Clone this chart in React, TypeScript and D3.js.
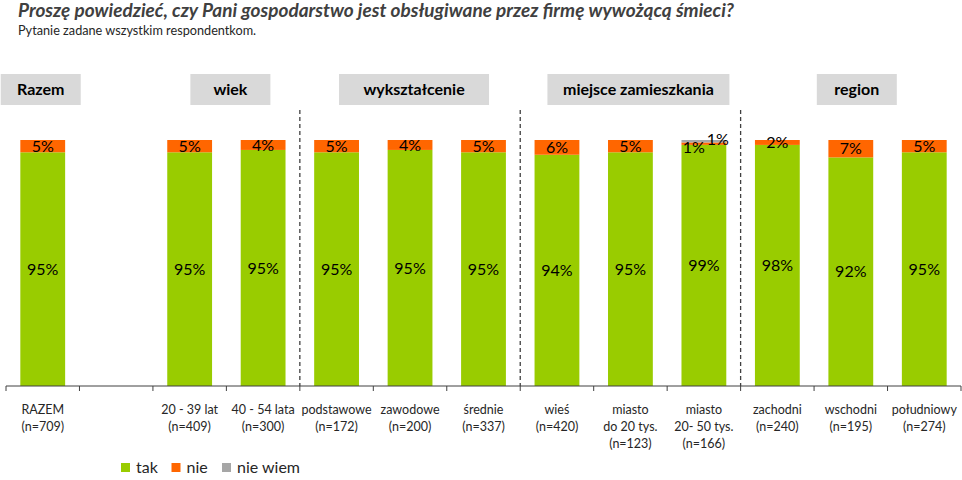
import React from "react";
import * as d3 from "d3";

// categories on the x axis ("" is the empty slot after RAZEM)
const categories = ["RAZEM", "", "20-39", "40-54", "podstawowe", "zawodowe", "srednie", "wies", "miasto20", "miasto50", "zachodni", "wschodni", "poludniowy"];
const categoryLabels = [
  ["RAZEM", "(n=709)"],
  [],
  ["20 - 39 lat", "(n=409)"],
  ["40 - 54 lata", "(n=300)"],
  ["podstawowe", "(n=172)"],
  ["zawodowe", "(n=200)"],
  ["średnie", "(n=337)"],
  ["wieś", "(n=420)"],
  ["miasto", "do 20 tys.", "(n=123)"],
  ["miasto", "20- 50 tys.", "(n=166)"],
  ["zachodni", "(n=240)"],
  ["wschodni", "(n=195)"],
  ["południowy", "(n=274)"],
];

const tak = [95, null, 95, 95, 95, 95, 95, 94, 95, 99, 98, 92, 95];
const nie = [5, null, 5, 4, 5, 4, 5, 6, 5, 1, 2, 7, 5];
const nieWiem = [0, null, 0, 0, 0, 0, 0, 0, 0, 1, 0, 0, 0];

const seriesNames = ["tak", "nie", "nie wiem"];
const seriesKeys = ["tak", "nie", "nieWiem"];
const seriesColors = ["#99CC00", "#FF6600", "#A6A6A6"];

const groupNames = ["Razem", "wiek", "wykształcenie", "miejsce zamieszkania", "region"];
const groupFirst = ["RAZEM", "20-39", "podstawowe", "wies", "zachodni"];
const groupLast = ["RAZEM", "40-54", "srednie", "miasto50", "poludniowy"];

const title = "Proszę powiedzieć, czy Pani gospodarstwo jest obsługiwane przez firmę wywożącą śmieci?";
const subtitle = "Pytanie zadane wszystkim respondentkom.";

const W = 962, H = 480;
const font = "Lato, 'Open Sans', sans-serif";
const layout = {
  axisY: 386, topY: 140, left: 6, right: 961,
  barRatio: 0.61, boxTop: 74, boxH: 31,
  boxW: [80, 80, 150, 182, 80], boxShift: [-2, 4, 4, 8, 6],
};
// manual nudges of crowded labels (Excel style)
const labelDx: Record<string, number[]> = { miasto50: [0, -10, 14] };
const labelDy: Record<string, number[]> = { miasto50: [0, 4, -2] };

const App = () => {
  const x = d3.scaleBand<string>().domain(categories).range([layout.left, layout.right]).padding(0);
  const y = d3.scaleLinear().domain([0, 1]).range([layout.axisY, layout.topY]);
  const bw = x.bandwidth();
  const barW = bw * layout.barRatio;

  const rows = categories.map((c, i) => ({ cat: c, tak: tak[i], nie: nie[i], nieWiem: nieWiem[i] }))
    .filter((r) => r.tak !== null) as any[];
  const stack = d3.stack<any>().keys(seriesKeys).offset(d3.stackOffsetExpand);
  const layers = stack(rows);

  const ticks = categories.map((c) => x(c) as number).concat([layout.right]);
  const sepCats = ["podstawowe", "wies", "zachodni"];

  return (
    <svg width={W} height={H} style={{ position: "absolute", left: 0, top: 0 }}>
      <rect width={W} height={H} fill="#fff" />
      <text x={18} y={17} fontFamily={font} fontSize={18} fontWeight="bold" fontStyle="italic" fill="#404040" textLength={716} lengthAdjust="spacingAndGlyphs">{title}</text>
      <text x={18} y={35} fontFamily={font} fontSize={12.7} fill="#262626">{subtitle}</text>

      {groupNames.map((g, i) => {
        const x0 = x(groupFirst[i]) as number;
        const x1 = (x(groupLast[i]) as number) + bw;
        const cx = (x0 + x1) / 2 + layout.boxShift[i];
        return (
          <g key={g}>
            <rect x={cx - layout.boxW[i] / 2} y={layout.boxTop} width={layout.boxW[i]} height={layout.boxH} fill="#D9D9D9" />
            <text x={cx} y={layout.boxTop + layout.boxH / 2 + 5.5} textAnchor="middle" fontFamily={font} fontSize={16} fontWeight="bold" fill="#000">{g}</text>
          </g>
        );
      })}

      {sepCats.map((c) => (
        <line key={c} x1={x(c)} x2={x(c)} y1={110} y2={layout.axisY} stroke="#404040" strokeWidth={1.3} strokeDasharray="4,3" />
      ))}

      {layers.map((layer, li) => (
        <g key={layer.key}>
          {layer.map((d: any) => {
            if (d[1] - d[0] <= 0) return null;
            const bx = (x(d.data.cat) as number) + (bw - barW) / 2;
            return <rect key={d.data.cat} x={bx} y={y(d[1])} width={barW} height={y(d[0]) - y(d[1])} fill={seriesColors[li]} />;
          })}
        </g>
      ))}

      {layers.map((layer, li) => (
        <g key={"l" + layer.key}>
          {layer.map((d: any) => {
            const v = d.data[layer.key];
            if (!v) return null;
            const cx = (x(d.data.cat) as number) + bw / 2 + (labelDx[d.data.cat]?.[li] ?? 0);
            const cy = (y(d[0]) + y(d[1])) / 2 + (labelDy[d.data.cat]?.[li] ?? 0);
            return (
              <text key={d.data.cat} x={cx} y={cy} dy="0.35em" textAnchor="middle" fontFamily={font} fontSize={16} fill="#000">{v}%</text>
            );
          })}
        </g>
      ))}

      <line x1={layout.left} x2={layout.right} y1={layout.axisY} y2={layout.axisY} stroke="#404040" strokeWidth={1} />
      {ticks.map((t, i) => (
        <line key={i} x1={t} x2={t} y1={layout.axisY} y2={layout.axisY + 5} stroke="#404040" strokeWidth={1} />
      ))}
      {categories.map((c, i) => (
        <text key={"x" + i} x={(x(c) as number) + bw / 2} y={414} textAnchor="middle" fontFamily={font} fontSize={12.5} fill="#262626">
          {categoryLabels[i].map((line, j) => (
            <tspan key={j} x={(x(c) as number) + bw / 2} dy={j === 0 ? 0 : 17}>{line}</tspan>
          ))}
        </text>
      ))}

      {seriesNames.map((s, i) => {
        const lx = 121 + i * 50.5;
        return (
          <g key={s}>
            <rect x={lx} y={463} width={9} height={9} fill={seriesColors[i]} />
            <text x={lx + 15} y={472.5} fontFamily={font} fontSize={16} fill="#262626">{s}</text>
          </g>
        );
      })}
    </svg>
  );
};

export default App;
